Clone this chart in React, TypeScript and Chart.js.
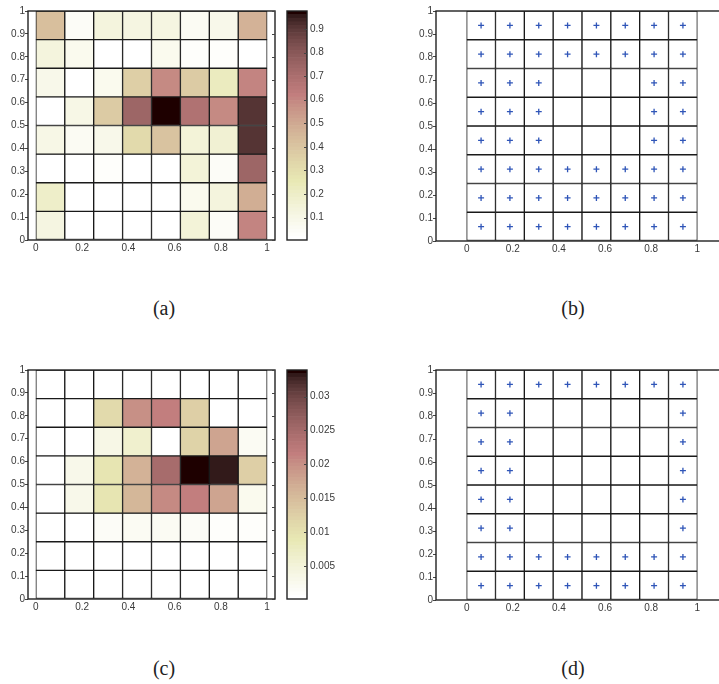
import React, { useEffect, useRef } from 'react';
import { Chart, registerables } from 'chart.js';

Chart.register(...registerables);

// ---------- data ----------
const colCenters = [0.0625, 0.1875, 0.3125, 0.4375, 0.5625, 0.6875, 0.8125, 0.9375];
const rowEdges = [0, 0.125, 0.25, 0.375, 0.5, 0.625, 0.75, 0.875, 1];

// panel (a) values, rows listed top -> bottom
const valuesA = [
  [0.42, 0.05, 0.13, 0.12, 0.12, 0.06, 0.09, 0.47],
  [0.14, 0.07, 0.02, 0.0, 0.07, 0.03, 0.03, 0.01],
  [0.09, 0.02, 0.08, 0.36, 0.59, 0.38, 0.23, 0.6],
  [0.02, 0.1, 0.37, 0.74, 0.97, 0.68, 0.59, 0.91],
  [0.11, 0.06, 0.09, 0.32, 0.4, 0.15, 0.17, 0.91],
  [0.0, 0.0, 0.03, 0.0, 0.0, 0.15, 0.04, 0.74],
  [0.2, 0.0, 0.0, 0.02, 0.02, 0.07, 0.13, 0.49],
  [0.12, 0.0, 0.0, 0.02, 0.005, 0.15, 0.05, 0.61],
];
const rangeA = [0.005, 0.976];

// panel (c) values, rows listed top -> bottom
const valuesC = [
  [0, 0, 0, 0, 0, 0, 0, 0],
  [0, 0, 0.0112, 0.02, 0.0214, 0.0126, 0.0007, 0],
  [0, 0, 0.0037, 0.0061, 0, 0.0119, 0.0177, 0.002],
  [0, 0.003, 0.0092, 0.016, 0.0245, 0.0338, 0.0329, 0.0126],
  [0, 0.003, 0.0092, 0.0156, 0.0203, 0.0217, 0.018, 0.0027],
  [0, 0, 0.0017, 0.002, 0.002, 0.0017, 0.001, 0.0008],
  [0, 0, 0, 0, 0, 0, 0, 0],
  [0, 0, 0, 0, 0, 0, 0, 0],
];
const rangeC = [0.0002, 0.0339];

// panel (b) / (d) marker masks, rows listed top -> bottom
const maskB = [
  [1, 1, 1, 1, 1, 1, 1, 1],
  [1, 1, 1, 1, 1, 1, 1, 1],
  [1, 1, 1, 0, 0, 0, 1, 1],
  [1, 1, 1, 0, 0, 0, 1, 1],
  [1, 1, 1, 0, 0, 0, 1, 1],
  [1, 1, 1, 1, 1, 1, 1, 1],
  [1, 1, 1, 1, 1, 1, 1, 1],
  [1, 1, 1, 1, 1, 1, 1, 1],
];
const maskD = [
  [1, 1, 1, 1, 1, 1, 1, 1],
  [1, 1, 0, 0, 0, 0, 0, 1],
  [1, 1, 0, 0, 0, 0, 0, 1],
  [1, 1, 0, 0, 0, 0, 0, 1],
  [1, 1, 0, 0, 0, 0, 0, 1],
  [1, 1, 0, 0, 0, 0, 0, 1],
  [1, 1, 1, 1, 1, 1, 1, 1],
  [1, 1, 1, 1, 1, 1, 1, 1],
];

const xTicks = [0, 0.2, 0.4, 0.6, 0.8, 1];
const xTickLabels = ['0', '0.2', '0.4', '0.6', '0.8', '1'];
const yTicks = [0, 0.1, 0.2, 0.3, 0.4, 0.5, 0.6, 0.7, 0.8, 0.9, 1];
const yTickLabels = ['0', '0.1', '0.2', '0.3', '0.4', '0.5', '0.6', '0.7', '0.8', '0.9', '1'];
const cbTicksA = [0.1, 0.2, 0.3, 0.4, 0.5, 0.6, 0.7, 0.8, 0.9];
const cbTickLabelsA = ['0.1', '0.2', '0.3', '0.4', '0.5', '0.6', '0.7', '0.8', '0.9'];
const cbTicksC = [0.005, 0.01, 0.015, 0.02, 0.025, 0.03];
const cbTickLabelsC = ['0.005', '0.01', '0.015', '0.02', '0.025', '0.03'];
const panelLabels = ['(a)', '(b)', '(c)', '(d)'];

// ---------- colormap: flipped MATLAB "pink" (64 levels) ----------
const CMAP_N = 64;
function pinkEntry(k: number): number[] {
  const n = Math.floor((3 / 8) * CMAP_N);
  const gray = k / (CMAP_N - 1);
  const hr = k < n ? (k + 1) / n : 1;
  const hg = k < n ? 0 : k < 2 * n ? (k - n + 1) / n : 1;
  const hb = k < 2 * n ? 0 : (k - 2 * n + 1) / (CMAP_N - 2 * n);
  return [hr, hg, hb].map((h) => Math.round(255 * Math.sqrt((2 * gray + h) / 3)));
}
function cmapColor(i: number): string {
  const [r, g, b] = pinkEntry(CMAP_N - 1 - i);
  return `rgb(${r},${g},${b})`;
}
function colorFor(v: number, cmin: number, cmax: number): string {
  let i = Math.floor(((v - cmin) / (cmax - cmin)) * CMAP_N);
  i = Math.max(0, Math.min(CMAP_N - 1, i));
  return cmapColor(i);
}

// ---------- styling ----------
const TICK_FONT = { family: "'Liberation Sans', Arial, sans-serif", size: 10 };
const TICK_COLOR = '#3a3a3a';
const LINE_COLOR = '#1a1a1a';

const framePlugin = {
  id: 'frame',
  afterDraw(chart: any, _args: any, opts: any) {
    const { ctx, chartArea: a } = chart;
    ctx.save();
    ctx.strokeStyle = '#222';
    ctx.lineWidth = 1.4;
    ctx.strokeRect(a.left, a.top, a.right - a.left, a.bottom - a.top);
    if (opts && opts.innerRight) {
      const s = chart.scales.y;
      ctx.lineWidth = 1;
      ctx.strokeStyle = '#444';
      s.ticks.forEach((t: any) => {
        const y = Math.round(s.getPixelForValue(t.value)) + 0.5;
        ctx.beginPath();
        ctx.moveTo(a.right, y);
        ctx.lineTo(a.right - 3, y);
        ctx.stroke();
      });
    }
    ctx.restore();
  },
};

function gridConfig(p: {
  values?: number[][];
  range?: number[];
  mask?: number[][];
  xMin: number;
  xMax: number;
  yWidth: number;
  pad: { left: number; top: number; right: number; bottom: number };
  innerRight: boolean;
}) {
  const datasets: any[] = [];
  for (let r = 0; r < 8; r++) {
    datasets.push({
      type: 'bar',
      data: colCenters.map((x) => ({ x, y: [rowEdges[7 - r], rowEdges[8 - r]] })),
      backgroundColor: colCenters.map((_, c) =>
        p.values && p.range ? colorFor(p.values[r][c], p.range[0], p.range[1]) : '#ffffff'
      ),
      borderColor: LINE_COLOR,
      borderWidth: 1,
      borderSkipped: false,
      grouped: false,
      barPercentage: 1,
      categoryPercentage: 1,
      order: 1,
    });
  }
  if (p.mask) {
    const pts: any[] = [];
    p.mask.forEach((row, r) =>
      row.forEach((m, c) => {
        if (m) pts.push({ x: colCenters[c], y: (rowEdges[7 - r] + rowEdges[8 - r]) / 2 });
      })
    );
    datasets.push({
      type: 'scatter',
      data: pts,
      pointStyle: 'cross',
      pointRadius: 3,
      pointBorderWidth: 1.3,
      pointBorderColor: '#2f55b8',
      borderColor: '#2f55b8',
      order: -1,
    });
  }
  return {
    type: 'bar',
    data: { datasets },
    plugins: [framePlugin],
    options: {
      responsive: false,
      animation: false,
      events: [],
      layout: { padding: p.pad },
      plugins: {
        legend: { display: false },
        tooltip: { enabled: false },
        frame: { innerRight: p.innerRight },
      },
      scales: {
        x: {
          type: 'linear',
          min: p.xMin,
          max: p.xMax,
          offset: false,
          afterBuildTicks: (s: any) => {
            s.ticks = xTicks.map((v) => ({ value: v }));
          },
          afterFit: (s: any) => {
            s.height = 22;
          },
          ticks: {
            callback: (_v: any, i: number) => xTickLabels[i],
            font: TICK_FONT,
            color: TICK_COLOR,
            padding: 2,
            autoSkip: false,
            maxRotation: 0,
          },
          grid: { display: true, drawOnChartArea: false, drawTicks: false, offset: false },
          border: { display: false },
        },
        y: {
          type: 'linear',
          min: 0,
          max: 1,
          afterBuildTicks: (s: any) => {
            s.ticks = yTicks.map((v) => ({ value: v }));
          },
          afterFit: (s: any) => {
            s.width = p.yWidth;
          },
          ticks: {
            callback: (_v: any, i: number) => yTickLabels[i],
            font: TICK_FONT,
            color: TICK_COLOR,
            padding: 0,
            autoSkip: false,
          },
          grid: { display: true, drawOnChartArea: false, drawTicks: true, tickLength: 3, color: '#444' },
          border: { display: false },
        },
      },
    },
  };
}

function colorbarConfig(range: number[], ticks: number[], labels: string[]) {
  const datasets: any[] = [];
  const step = (range[1] - range[0]) / CMAP_N;
  for (let i = 0; i < CMAP_N; i++) {
    datasets.push({
      data: [[range[0] + i * step, range[0] + (i + 1) * step]],
      backgroundColor: cmapColor(i),
      borderWidth: 0,
      grouped: false,
      barPercentage: 1,
      categoryPercentage: 1,
    });
  }
  return {
    type: 'bar',
    data: { labels: [''], datasets },
    plugins: [framePlugin],
    options: {
      responsive: false,
      animation: false,
      events: [],
      layout: { padding: { left: 7, top: 11, right: 0, bottom: 22 } },
      plugins: {
        legend: { display: false },
        tooltip: { enabled: false },
        frame: { innerRight: true },
      },
      scales: {
        x: { display: false },
        y: {
          type: 'linear',
          position: 'right',
          min: range[0],
          max: range[1],
          afterBuildTicks: (s: any) => {
            s.ticks = ticks.map((v) => ({ value: v }));
          },
          afterFit: (s: any) => {
            s.width = 33;
          },
          ticks: {
            callback: (_v: any, i: number) => labels[i],
            font: TICK_FONT,
            color: TICK_COLOR,
            padding: 3,
            autoSkip: false,
          },
          grid: { display: false, drawOnChartArea: false, drawTicks: false },
          border: { display: false },
        },
      },
    },
  };
}

function ChartBox(props: { left: number; top: number; width: number; height: number; make: () => any }) {
  const ref = useRef<HTMLCanvasElement>(null);
  useEffect(() => {
    const chart = new Chart(ref.current as HTMLCanvasElement, props.make());
    return () => chart.destroy();
  }, []);
  return (
    <canvas
      ref={ref}
      width={props.width}
      height={props.height}
      style={{ position: 'absolute', left: props.left, top: props.top, width: props.width, height: props.height }}
    />
  );
}

function PanelLabel(props: { text: string; x: number; y: number }) {
  return (
    <div
      style={{
        position: 'absolute',
        left: props.x,
        top: props.y,
        transform: 'translate(-50%, -50%)',
        fontFamily: "'Liberation Serif', 'DejaVu Serif', serif",
        fontSize: 20,
        color: '#222',
        whiteSpace: 'nowrap',
      }}
    >
      {props.text}
    </div>
  );
}

export default function App() {
  const PAD_A = { left: 0, top: 11, right: 10, bottom: 0 };
  const PAD_B = { left: 0, top: 11, right: 12, bottom: 0 };
  return (
    <div
      style={{
        position: 'absolute',
        left: 0,
        top: 0,
        width: 719,
        height: 684,
        overflow: 'hidden',
        background: '#fff',
      }}
    >
      <ChartBox
        left={0}
        top={0}
        width={285}
        height={262}
        make={() =>
          gridConfig({ values: valuesA, range: rangeA, xMin: -0.034, xMax: 1.034, yWidth: 28, pad: PAD_A, innerRight: true })
        }
      />
      <ChartBox left={280} top={0} width={60} height={262} make={() => colorbarConfig(rangeA, cbTicksA, cbTickLabelsA)} />
      <ChartBox
        left={400}
        top={0}
        width={340}
        height={263}
        make={() => gridConfig({ mask: maskB, xMin: -0.1329, xMax: 1.1329, yWidth: 36, pad: PAD_B, innerRight: false })}
      />
      <ChartBox
        left={0}
        top={359}
        width={285}
        height={262}
        make={() =>
          gridConfig({ values: valuesC, range: rangeC, xMin: -0.034, xMax: 1.034, yWidth: 28, pad: PAD_A, innerRight: true })
        }
      />
      <ChartBox left={280} top={359} width={60} height={262} make={() => colorbarConfig(rangeC, cbTicksC, cbTickLabelsC)} />
      <ChartBox
        left={400}
        top={359}
        width={340}
        height={263}
        make={() => gridConfig({ mask: maskD, xMin: -0.1329, xMax: 1.1329, yWidth: 36, pad: PAD_B, innerRight: false })}
      />
      <PanelLabel text={panelLabels[0]} x={164} y={308} />
      <PanelLabel text={panelLabels[1]} x={573} y={308} />
      <PanelLabel text={panelLabels[2]} x={164} y={668} />
      <PanelLabel text={panelLabels[3]} x={573} y={668} />
    </div>
  );
}
